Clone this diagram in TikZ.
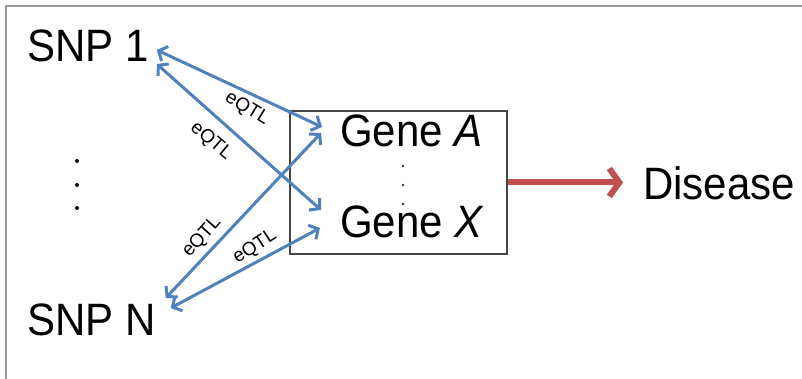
\documentclass[tikz,border=0pt]{standalone}
\usepackage{fontspec}
\setmainfont{Liberation Sans}
\usetikzlibrary{arrows.meta,calc}
\definecolor{linkblue}{RGB}{79,129,189}
\definecolor{causered}{RGB}{192,80,77}
\definecolor{framegray}{RGB}{155,155,155}
\definecolor{boxgray}{RGB}{70,70,70}
\newcommand{\tallword}[1]{\scalebox{1}[1.08]{#1}}
\begin{document}
\begin{tikzpicture}[x=1pt,y=-1pt,
  bigtext/.style={font=\fontsize{42}{48}\selectfont, inner sep=0pt, anchor=base west},
  qtltext/.style={font=\fontsize{19}{21}\selectfont, inner sep=0pt},
  genebox/.style={draw=boxgray, line width=1.4pt, minimum width=217pt, minimum height=143pt, inner sep=0pt},
  link/.style={linkblue, line width=3pt,
    {Straight Barb[length=7pt,width=16pt]}-{Straight Barb[length=7pt,width=16pt]}},
  cause/.style={causered, line width=6pt, -{Straight Barb[length=10pt,width=28pt]}},
  dot/.style={fill=black, circle, inner sep=0pt, minimum size=4pt},
  smalldot/.style={fill=black!80, circle, inner sep=0pt, minimum size=2.6pt}]
\useasboundingbox (0,0) rectangle (802,379);
\fill[white] (0,0) rectangle (802,379);
% open frame: left and top edges only
\draw[framegray, line width=1.6pt] (6,379) -- (6,6) -- (802,6);

% SNPs
\node[bigtext] (snp1) at (27,62) {\tallword{SNP 1}};
\node[bigtext] (snpn) at (27,335) {\tallword{SNP N}};
\node[dot] (d1) at (77,161) {};
\node[dot] (d2) at (77,185) {};
\node[dot] (d3) at (77,208) {};

% gene box
\node[genebox] (box) at (398.5,182.5) {};
\node[bigtext] (geneA) at (340,147) {\tallword{Gene \textit{A}}};
\node[bigtext] (geneX) at (340,237) {\tallword{Gene \textit{X}}};
\node[smalldot] (g1) at (403,166) {};
\node[smalldot] (g2) at (403,185) {};
\node[smalldot] (g3) at (403,204) {};

% outcome
\node[bigtext] (disease) at (643,200) {\tallword{Disease}};

% eQTL links
\draw[link] ($(snp1.base east)+(8,-12)$) -- ($(geneA.base west)+(-18,-20)$);
\draw[link] ($(snp1.base east)+(8,2)$) -- ($(geneX.base west)+(-19,-27)$);
\draw[link] ($(snpn.base east)+(10,-37)$) -- ($(geneA.base west)+(-19,-14)$);
\draw[link] ($(snpn.base east)+(15,-27)$) -- ($(geneX.base west)+(-20,-9)$);

\node[qtltext, rotate=-31] (q1) at (247,109) {eQTL};
\node[qtltext, rotate=-40] (q2) at (211,141) {eQTL};
\node[qtltext, rotate=48] (q3) at (202,237) {eQTL};
\node[qtltext, rotate=33] (q4) at (255,247) {eQTL};

% genes to disease
\draw[cause] (box.east) -- ([xshift=-20pt]box.east -| disease.west);
\end{tikzpicture}
\end{document}
